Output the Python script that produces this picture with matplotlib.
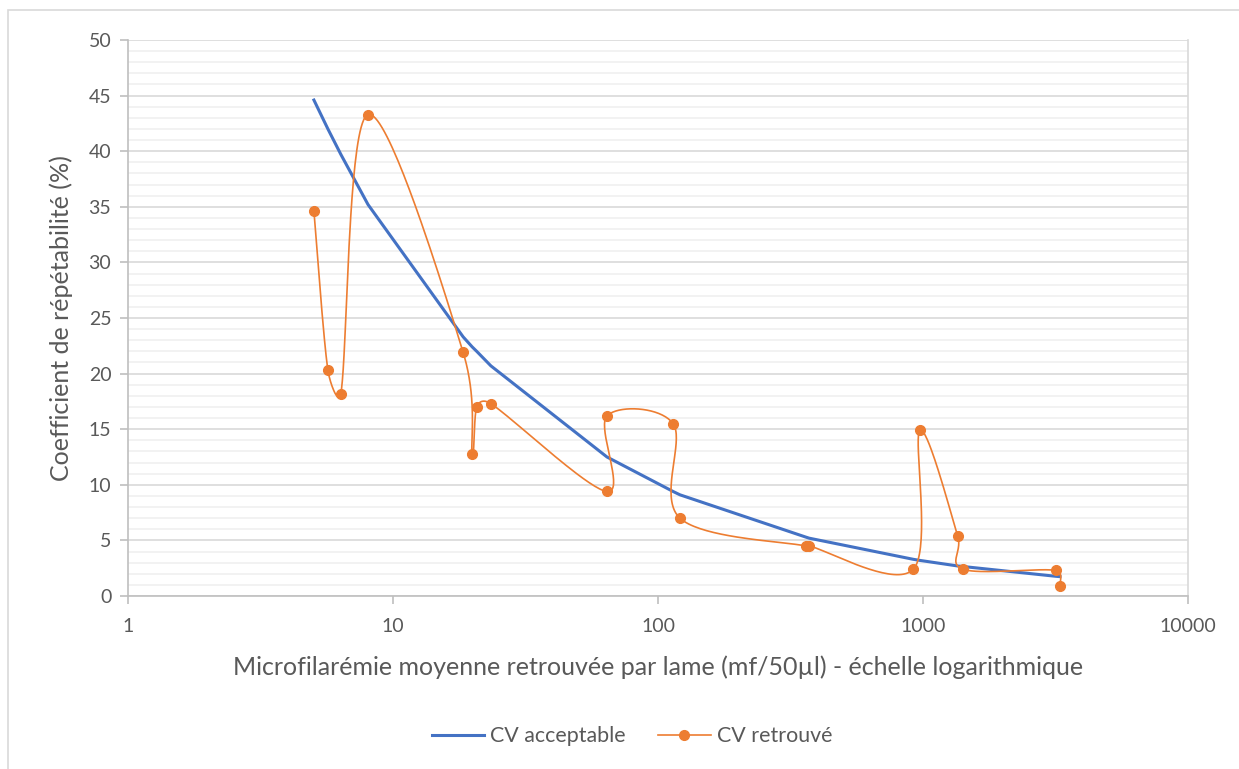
import numpy as np
import matplotlib.pyplot as plt
from matplotlib.patches import Rectangle
from matplotlib.ticker import FixedLocator, MultipleLocator

# CV acceptable (blue, straight segments)
acc_x = [5.03, 5.68, 6.36, 8.05, 18.4, 19.9, 20.7, 23.4, 64.2, 114, 121, 361, 372,
         919, 974, 1352, 1419, 3178, 3289]
acc_y = [44.6, 42.0, 39.7, 35.2, 23.3, 22.4, 22.0, 20.7, 12.5, 9.4, 9.1, 5.3, 5.2,
         3.3, 3.2, 2.7, 2.65, 1.77, 1.74]

# CV retrouvé (orange, smoothed, in sample order)
ret_x = [5.03, 5.68, 6.36, 8.05, 18.4, 19.9, 20.7, 23.4, 64.2, 64.2, 114, 121,
         361, 372, 919, 974, 1352, 1419, 3178, 3289]
ret_y = [34.6, 20.3, 18.2, 43.3, 21.9, 12.8, 17.0, 17.3, 9.4, 16.2, 15.5, 7.0,
         4.5, 4.5, 2.4, 14.9, 5.4, 2.4, 2.3, 0.9]

x_ticks = [1, 10, 100, 1000, 10000]
x_labels = ["1", "10", "100", "1000", "10000"]

BLUE = "#4472c4"
ORANGE = "#ed7d31"
TXT = "#595959"

W, H = 1239, 769
PX_DECADE = (1188 - 128) / 4   # pixels per decade on x
PX_UNIT = (596 - 40) / 50      # pixels per y unit


def smooth(xs, ys, n=40):
    """Excel-like smoothed line: Bezier with 1/6 tangents, clamped to half the segment."""
    px = np.log10(np.asarray(xs, float)) * PX_DECADE
    py = np.asarray(ys, float) * PX_UNIT
    P = np.column_stack([px, py])
    out = []
    for i in range(len(P) - 1):
        p0 = P[i - 1] if i > 0 else P[i]
        p1, p2 = P[i], P[i + 1]
        p3 = P[i + 2] if i + 2 < len(P) else P[i + 1]
        d12 = np.hypot(*(p2 - p1))
        d02 = np.hypot(*(p2 - p0))
        d13 = np.hypot(*(p3 - p1))
        f = 1 / 6 if d02 == 0 else min(1 / 6, d12 / (2 * d02))
        g = 1 / 6 if d13 == 0 else min(1 / 6, d12 / (2 * d13))
        c1 = p1 + f * (p2 - p0)
        c2 = p2 - g * (p3 - p1)
        t = np.linspace(0, 1, n)[:, None]
        seg = ((1 - t) ** 3 * p1 + 3 * (1 - t) ** 2 * t * c1
               + 3 * (1 - t) * t ** 2 * c2 + t ** 3 * p2)
        out.append(seg if i == 0 else seg[1:])
    s = np.vstack(out)
    return 10 ** (s[:, 0] / PX_DECADE), s[:, 1] / PX_UNIT


plt.rcParams['font.family'] = ['Lato', 'DejaVu Sans']

fig = plt.figure(figsize=(12.39, 7.69), dpi=100)
ax = fig.add_axes([128 / W, 1 - 596 / H, (1188 - 128) / W, (596 - 40) / H])

fig.patches.append(Rectangle((8 / W, -0.05), 1.1, 1 - 10 / H + 0.05,
                             transform=fig.transFigure, fill=False,
                             edgecolor="#d9d9d9", linewidth=1.2))

ax.set_xscale("log")
ax.set_xlim(1, 10000)
ax.set_ylim(0, 50)

ax.yaxis.set_major_locator(MultipleLocator(5))
ax.yaxis.set_minor_locator(MultipleLocator(1))
ax.grid(which="major", axis="y", color="#d9d9d9", linewidth=1.2)
ax.grid(which="minor", axis="y", color="#f0f0f0", linewidth=1.2)
ax.set_axisbelow(True)

ax.xaxis.set_major_locator(FixedLocator(x_ticks))
ax.set_xticklabels(x_labels)
ax.xaxis.set_minor_locator(FixedLocator([]))

for side in ["left", "bottom"]:
    ax.spines[side].set_color("#bfbfbf")
    ax.spines[side].set_linewidth(1.2)
ax.spines["right"].set_color("#d9d9d9")
ax.spines["right"].set_linewidth(1.2)
ax.spines["top"].set_visible(False)
ax.tick_params(axis="both", which="major", colors="#bfbfbf", labelcolor=TXT,
               labelsize=14, length=6, width=1.2)
ax.tick_params(axis="y", which="minor", length=0)
ax.tick_params(axis="x", pad=10)
ax.tick_params(axis="y", pad=6)

ax.plot(acc_x, acc_y, color=BLUE, linewidth=2.2, label="CV acceptable", zorder=3)
sx, sy = smooth(ret_x, ret_y)
ax.plot(sx, sy, color=ORANGE, linewidth=1.2, zorder=4)
ax.plot(ret_x, ret_y, linestyle="none", marker="o", markersize=7,
        color=ORANGE, zorder=5)
ax.plot([], [], color=ORANGE, linewidth=1.2, marker="o", markersize=7,
        label="CV retrouvé")

fig.text(658 / W, 1 - 667 / H,
         "Microfilarémie moyenne retrouvée par lame (mf/50µl) - échelle logarithmique",
         ha="center", va="center", fontsize=18, color=TXT)
fig.text(61 / W, 1 - 318 / H, "Coefficient de répétabilité (%)",
         ha="center", va="center", rotation=90, fontsize=18, color=TXT)

leg = fig.legend(loc="center", bbox_to_anchor=(632 / W, 1 - 736 / H), ncol=2,
                 frameon=False, fontsize=15.4, handlelength=2.45, columnspacing=1.5,
                 handletextpad=0.3)
for t in leg.get_texts():
    t.set_color(TXT)

fig.savefig("out.png", dpi=100)
